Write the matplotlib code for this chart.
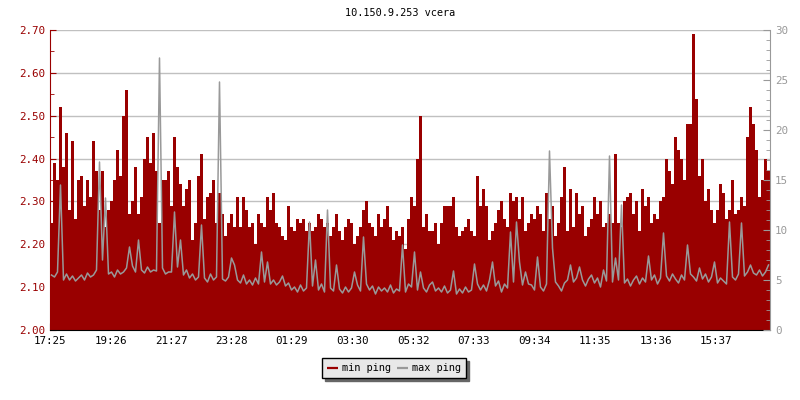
import numpy as np
import matplotlib
matplotlib.use("Agg")
import matplotlib.pyplot as plt
from matplotlib.ticker import MultipleLocator

TITLE = "10.150.9.253 vcera"
STEP_MIN = 6  # one sample every 6 minutes, 24 h window starting 17:25

# min ping (left axis), one value per 6-minute slot
MIN_PING = [
    2.25, 2.39, 2.35, 2.52, 2.38, 2.46, 2.28, 2.44, 2.26, 2.35,
    2.36, 2.29, 2.35, 2.31, 2.44, 2.37, 2.28, 2.37, 2.24, 2.28,
    2.30, 2.35, 2.42, 2.36, 2.50, 2.56, 2.27, 2.30, 2.38, 2.27,
    2.31, 2.40, 2.45, 2.39, 2.46, 2.37, 2.25, 2.35, 2.35, 2.37,
    2.29, 2.45, 2.38, 2.34, 2.29, 2.33, 2.35, 2.21, 2.25, 2.36,
    2.41, 2.26, 2.31, 2.32, 2.35, 2.25, 2.32, 2.27, 2.22, 2.25,
    2.27, 2.24, 2.31, 2.24, 2.31, 2.28, 2.24, 2.25, 2.20, 2.27,
    2.25, 2.24, 2.31, 2.28, 2.32, 2.25, 2.24, 2.22, 2.21, 2.29,
    2.24, 2.23, 2.26, 2.25, 2.26, 2.23, 2.25, 2.23, 2.24, 2.27,
    2.26, 2.24, 2.25, 2.22, 2.24, 2.27, 2.23, 2.21, 2.24, 2.26,
    2.25, 2.20, 2.22, 2.24, 2.28, 2.30, 2.25, 2.24, 2.22, 2.27,
    2.24, 2.26, 2.29, 2.24, 2.21, 2.23, 2.22, 2.24, 2.19, 2.26,
    2.31, 2.29, 2.40, 2.50, 2.24, 2.27, 2.23, 2.23, 2.25, 2.20,
    2.25, 2.29, 2.29, 2.29, 2.31, 2.24, 2.22, 2.23, 2.24, 2.26,
    2.23, 2.22, 2.36, 2.29, 2.33, 2.29, 2.21, 2.23, 2.25, 2.28,
    2.30, 2.26, 2.24, 2.32, 2.30, 2.31, 2.26, 2.31, 2.23, 2.25,
    2.27, 2.26, 2.29, 2.27, 2.23, 2.32, 2.26, 2.29, 2.22, 2.25,
    2.31, 2.38, 2.23, 2.33, 2.24, 2.32, 2.27, 2.29, 2.22, 2.24,
    2.26, 2.31, 2.27, 2.30, 2.24, 2.25, 2.27, 2.25, 2.41, 2.25,
    2.24, 2.30, 2.31, 2.32, 2.27, 2.30, 2.23, 2.33, 2.29, 2.31,
    2.25, 2.27, 2.26, 2.30, 2.31, 2.40, 2.37, 2.34, 2.45, 2.42,
    2.40, 2.35, 2.48, 2.48, 2.69, 2.54, 2.36, 2.40, 2.30, 2.33,
    2.28, 2.25, 2.28, 2.34, 2.32, 2.26, 2.28, 2.35, 2.27, 2.28,
    2.31, 2.29, 2.45, 2.52, 2.48, 2.42, 2.31, 2.35, 2.40, 2.37,
]

# max ping (right axis), same time slots
MAX_PING = [
    5.5, 5.3, 5.8, 14.5, 5.0, 5.6, 5.0, 5.4, 4.9, 5.2,
    5.5, 5.0, 5.7, 5.3, 5.5, 6.0, 16.8, 7.0, 13.2, 5.6,
    5.8, 5.3, 6.0, 5.6, 5.8, 6.2, 8.3, 6.4, 5.8, 9.0,
    6.0, 5.7, 6.3, 5.8, 6.0, 5.9, 27.2, 6.2, 5.6, 5.8,
    5.8, 11.8, 6.3, 9.0, 5.5, 6.0, 5.2, 5.6, 5.0, 5.3,
    10.5, 5.2, 4.8, 5.6, 5.0, 5.3, 24.8, 5.1, 4.9, 5.3,
    7.2, 6.5, 5.0, 4.7, 5.5, 4.6, 5.0, 4.5, 5.2, 4.6,
    7.8, 4.8, 6.8, 4.6, 5.0, 4.5, 4.8, 5.4, 4.4, 4.7,
    4.0, 4.3, 3.8, 4.5, 3.9, 4.2, 10.8, 4.4, 7.0, 4.0,
    4.6, 3.8, 12.0, 4.2, 3.9, 6.5, 4.1, 3.7, 4.3, 3.8,
    4.2, 5.8, 4.5, 3.9, 9.3, 4.6, 4.0, 4.4, 3.6, 4.3,
    3.9, 4.2, 3.8, 4.5, 3.7, 4.1, 3.9, 8.5, 3.8, 4.6,
    4.3, 7.8, 4.0, 5.8, 4.2, 3.8, 4.5, 4.8, 3.9, 4.2,
    3.8, 4.4, 3.7, 4.0, 5.9, 3.6, 4.1, 3.7, 4.3, 3.8,
    4.0, 6.6, 4.6, 4.0, 4.5, 3.9, 5.0, 6.8, 4.4, 4.9,
    3.8, 4.6, 4.2, 9.8, 4.8, 10.8, 6.8, 4.5, 5.8, 4.6,
    4.5, 4.0, 7.3, 4.3, 3.9, 4.6, 17.9, 8.2, 4.8, 4.4,
    3.9, 4.7, 5.0, 6.5, 4.8, 5.2, 6.3, 5.0, 4.4, 5.1,
    5.5, 4.7, 5.2, 4.3, 6.0, 4.9, 17.4, 4.8, 7.2, 5.0,
    12.5, 4.7, 5.1, 4.4, 5.0, 5.4, 4.6, 5.2, 4.8, 7.4,
    5.0, 5.5, 4.6, 5.2, 9.7, 5.4, 4.9, 5.6, 5.1, 4.7,
    5.5, 5.0, 8.5, 5.6, 5.3, 4.9, 6.2, 5.1, 5.6, 4.8,
    5.3, 6.8, 4.7, 5.2, 4.9, 4.6, 10.8, 5.3, 5.0, 5.6,
    10.7, 5.4, 5.8, 6.5, 5.7, 5.5, 6.0, 5.4, 5.8, 6.5,
]

TICK_LABELS = ["17:25", "19:26", "21:27", "23:28", "01:29", "03:30",
               "05:32", "07:33", "09:34", "11:35", "13:36", "15:37"]

RED = "#990000"
GRAY = "#999999"
FONT = "DejaVu Sans Mono"


def minutes_from_start(label, start="17:25"):
    h, m = map(int, label.split(":"))
    h0, m0 = map(int, start.split(":"))
    return ((h * 60 + m) - (h0 * 60 + m0)) % 1440


plt.rcParams["font.family"] = FONT

fig = plt.figure(figsize=(8, 4), dpi=100)
ax = fig.add_axes([0.0625, 0.175, 0.9, 0.75])

edges = np.arange(len(MIN_PING) + 1) * STEP_MIN
centers = (edges[:-1] + edges[1:]) / 2
ax.stairs(MIN_PING, edges, baseline=2.0, fill=True, color=RED,
          linewidth=0, zorder=2)
ax.set_xlim(0, edges[-1])
ax.set_ylim(2.0, 2.7)
ax.yaxis.set_major_locator(MultipleLocator(0.1))
ax.yaxis.set_minor_locator(MultipleLocator(0.05))
ax.yaxis.set_major_formatter(matplotlib.ticker.FormatStrFormatter("%.2f"))
ax.grid(True, axis="y", color="#c0c0c0", linewidth=1)
ax.set_axisbelow(True)

ax.set_xticks([minutes_from_start(t) for t in TICK_LABELS])
ax.set_xticklabels(TICK_LABELS)

ax.tick_params(axis="y", which="both", direction="in", colors=RED,
               labelsize=7.8, length=4)
ax.tick_params(axis="y", which="minor", length=3)
ax.tick_params(axis="x", direction="in", length=5, labelsize=7.8, pad=4)
ax.spines["left"].set_color(RED)
ax.spines["top"].set_visible(False)
ax.spines["right"].set_visible(False)

ax2 = ax.twinx()
ax2.plot(centers, MAX_PING, color=GRAY, linewidth=1.1)
ax2.set_ylim(0, 30)
ax2.yaxis.set_major_locator(MultipleLocator(5))
ax2.yaxis.set_minor_locator(MultipleLocator(1))
ax2.tick_params(axis="y", which="both", direction="in", colors=GRAY,
                labelsize=7.8, length=5)
ax2.tick_params(axis="y", which="minor", length=3)
ax2.spines["right"].set_color(GRAY)
for s in ("left", "top", "bottom"):
    ax2.spines[s].set_visible(False)

fig.text(0.5, 1 - 13 / 400, TITLE, ha="center", va="center", fontsize=7.4)

handles = [plt.Line2D([], [], color=RED, lw=1.6, solid_capstyle="butt"),
           plt.Line2D([], [], color=GRAY, lw=1.6, solid_capstyle="butt")]
leg = fig.legend(handles, ["min ping", "max ping"], loc="upper center",
                 bbox_to_anchor=(0.4925, 1 - 358 / 400), ncol=2,
                 fontsize=7.4, frameon=True, fancybox=False,
                 shadow={"color": "#666666", "alpha": 1},
                 edgecolor="black", facecolor="#e8e8e8", framealpha=1,
                 handlelength=1.1, handletextpad=0.4, columnspacing=0.5,
                 borderpad=0.5, borderaxespad=0)
leg.get_frame().set_linewidth(1)

fig.savefig("out.png", dpi=100)
